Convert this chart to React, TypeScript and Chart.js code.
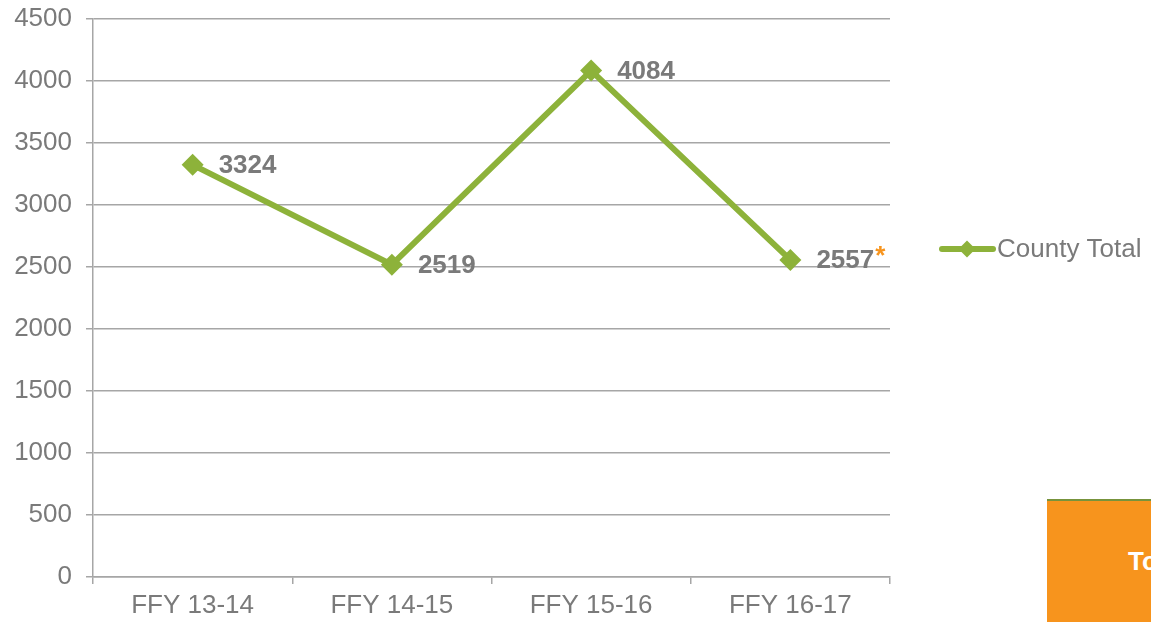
import React, { useEffect, useRef } from "react";
import { Chart, registerables } from "chart.js";

Chart.register(...registerables);

const categories = ["FFY 13-14", "FFY 14-15", "FFY 15-16", "FFY 16-17"];
const countyTotal = [3324, 2519, 4084, 2557];
const labelSuffix = ["", "", "", "*"];
const seriesName = "County Total";
const yTicks = [0, 500, 1000, 1500, 2000, 2500, 3000, 3500, 4000, 4500];

const GREEN = "#8db23a";
const GRID = "#a6a6a6";
const TEXT = "#7a7a7a";
const ORANGE = "#f7941d";
const FONT = "'Liberation Sans', Arial, sans-serif";

const overlayPlugin = {
  id: "overlay",
  afterDatasetsDraw(chart: any) {
    const ctx = chart.ctx;
    const meta = chart.getDatasetMeta(0);
    ctx.save();
    ctx.font = `bold 26px ${FONT}`;
    ctx.textBaseline = "middle";
    ctx.textAlign = "left";
    meta.data.forEach((pt: any, i: number) => {
      const txt = String(countyTotal[i]);
      const x = pt.x + 26;
      const y = pt.y + 1;
      ctx.fillStyle = TEXT;
      ctx.fillText(txt, x, y);
      if (labelSuffix[i]) {
        const w = ctx.measureText(txt).width;
        ctx.fillStyle = ORANGE;
        ctx.fillText(labelSuffix[i], x + w + 1, y - 4);
      }
    });
    // legend
    const ly = 249;
    ctx.strokeStyle = GREEN;
    ctx.lineWidth = 6;
    ctx.lineCap = "round";
    ctx.beginPath();
    ctx.moveTo(942, ly);
    ctx.lineTo(993, ly);
    ctx.stroke();
    ctx.fillStyle = GREEN;
    ctx.beginPath();
    ctx.moveTo(967, ly - 8.5);
    ctx.lineTo(975.5, ly);
    ctx.lineTo(967, ly + 8.5);
    ctx.lineTo(958.5, ly);
    ctx.closePath();
    ctx.fill();
    ctx.font = `26px ${FONT}`;
    ctx.fillStyle = TEXT;
    ctx.textBaseline = "middle";
    ctx.fillText(seriesName, 997, ly + 1);
    ctx.restore();
  },
};

export default function App() {
  const ref = useRef<HTMLCanvasElement>(null);
  useEffect(() => {
    if (!ref.current) return;
    const chart = new Chart(ref.current, {
      type: "line",
      data: {
        labels: categories,
        datasets: [
          {
            label: seriesName,
            data: countyTotal,
            borderColor: GREEN,
            backgroundColor: GREEN,
            borderWidth: 6,
            pointStyle: "rectRot",
            pointRadius: 11,
            pointHoverRadius: 11,
            pointBackgroundColor: GREEN,
            pointBorderColor: GREEN,
            pointBorderWidth: 0,
            tension: 0,
          },
        ],
      },
      options: {
        animation: false,
        responsive: false,
        maintainAspectRatio: false,
        layout: { padding: { left: 0, top: 19, right: 261, bottom: 0 } },
        plugins: { legend: { display: false }, tooltip: { enabled: false } },
        scales: {
          x: {
            type: "category",
            offset: true,
            grid: {
              offset: true,
              drawOnChartArea: false,
              drawTicks: true,
              tickLength: 7,
              color: GRID,
              lineWidth: 1.5,
            },
            border: { display: true, color: GRID, width: 1.5 },
            ticks: {
              color: TEXT,
              font: { family: FONT, size: 26 },
              padding: 6,
              maxRotation: 0,
            },
            afterFit: (s: any) => {
              s.height = 45;
              s.paddingLeft = 0;
              s.paddingRight = 0;
            },
          },
          y: {
            min: 0,
            max: 4500,
            afterBuildTicks: (s: any) => {
              s.ticks = yTicks.map((v) => ({ value: v }));
            },
            grid: {
              drawOnChartArea: true,
              drawTicks: true,
              tickLength: 7,
              color: GRID,
              lineWidth: 1.5,
            },
            border: { display: true, color: GRID, width: 1.5 },
            ticks: {
              color: TEXT,
              font: { family: FONT, size: 26 },
              padding: 14,
              callback: (v: any) => String(v),
            },
            afterFit: (s: any) => {
              s.width = 93;
              s.paddingTop = 0;
              s.paddingBottom = 0;
            },
          },
        },
      },
      plugins: [overlayPlugin],
    });
    return () => chart.destroy();
  }, []);

  return (
    <div
      style={{
        position: "fixed",
        left: 0,
        top: 0,
        width: 1151,
        height: 622,
        overflow: "hidden",
        background: "#ffffff",
      }}
    >
      <canvas ref={ref} width={1151} height={622} style={{ display: "block" }} />
      <div
        style={{
          position: "absolute",
          left: 1047,
          top: 499,
          width: 200,
          height: 130,
          background: ORANGE,
          borderTop: "2px solid #77933c",
          color: "#ffffff",
          fontFamily: FONT,
          fontWeight: "bold",
          fontSize: 26,
          boxSizing: "border-box",
        }}
      >
        <span style={{ position: "absolute", left: 81, top: 45, whiteSpace: "nowrap" }}>Total</span>
      </div>
    </div>
  );
}
